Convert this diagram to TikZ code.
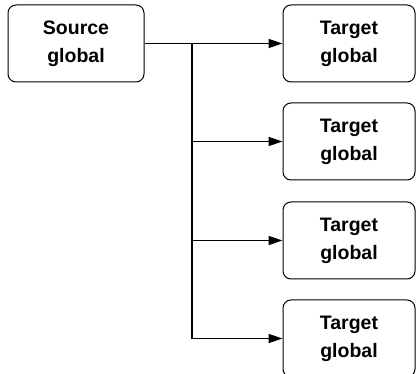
\documentclass[tikz,border=0pt]{standalone}
\usepackage{fontspec}
\setmainfont{Liberation Sans}
\usetikzlibrary{arrows.meta}
\begin{document}
\begin{tikzpicture}[x=1pt,y=-1pt,
  box/.style={draw, line width=1pt, rounded corners=8pt, align=center,
    minimum height=77pt, inner sep=0pt,
    font=\fontsize{19.5}{28}\selectfont\bfseries},
  src/.style={box, minimum width=136pt},
  tgt/.style={box, minimum width=132pt},
  conn/.style={line width=1.5pt},
  arr/.style={conn, -{Triangle[length=14pt,width=9pt]}}]
\useasboundingbox (0,0) rectangle (416,374);
\clip (0,0) rectangle (416,374);
\node[src] (s) at (76,43.5) {Source\\global};
\node[tgt] (t1) at (349,43.5) {Target\\global};
\node[tgt] (t2) at (349,141.5) {Target\\global};
\node[tgt] (t3) at (349,240.5) {Target\\global};
\node[tgt] (t4) at (349,338.5) {Target\\global};
\coordinate (j) at (192,43.5);
\draw[arr] (s.east) -- (t1.west);
\draw[conn] (j) -- (j|-t4.west);
\draw[arr] (j|-t2.west) -- (t2.west);
\draw[arr] (j|-t3.west) -- (t3.west);
\draw[arr] ([yshift=0.75pt]j|-t4.west) |- (t4.west);
\end{tikzpicture}
\end{document}
